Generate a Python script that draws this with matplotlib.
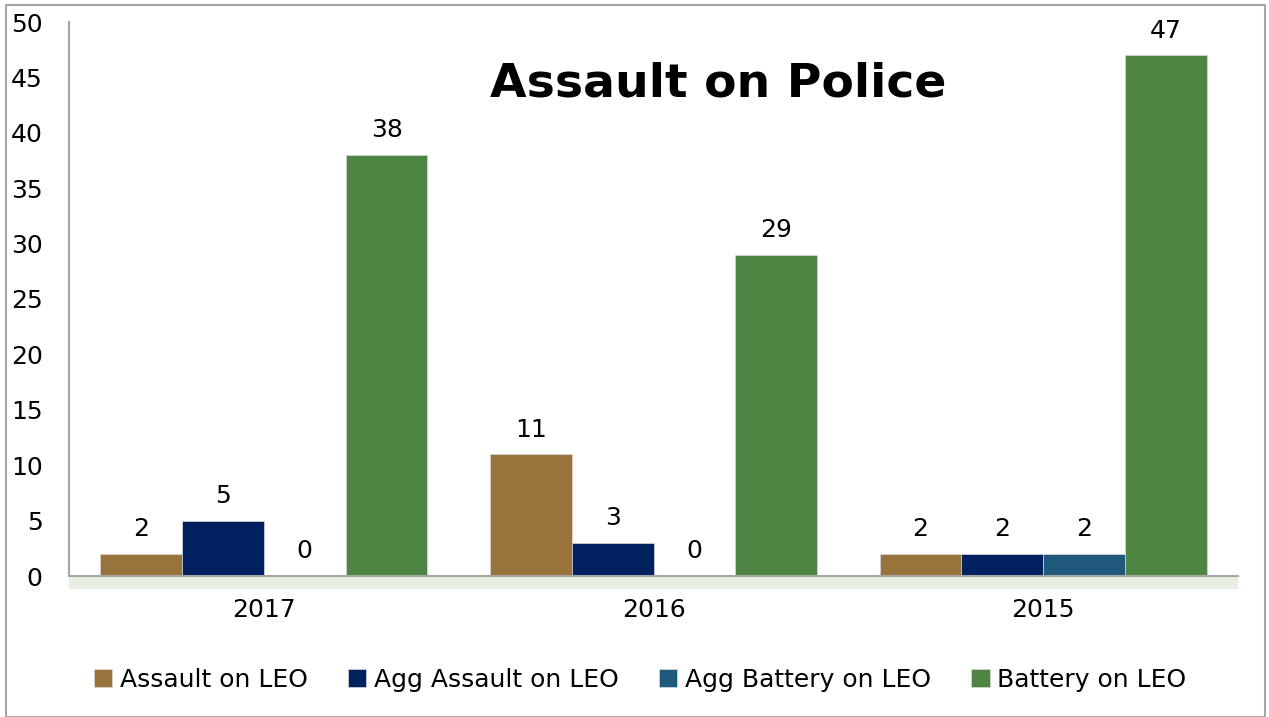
import matplotlib
matplotlib.use("Agg")
import matplotlib.pyplot as plt
from matplotlib.patches import Rectangle
import numpy as np

categories = ["2017", "2016", "2015"]
series_names = ["Assault on LEO", "Agg Assault on LEO", "Agg Battery on LEO", "Battery on LEO"]
assault = [2, 11, 2]
agg_assault = [5, 3, 2]
agg_battery = [0, 0, 2]
battery = [38, 29, 47]
colors = ["#98733C", "#00205F", "#1F5A7D", "#4E8542"]
yticks = [0, 5, 10, 15, 20, 25, 30, 35, 40, 45, 50]
title = "Assault on Police"

plt.rcParams['font.family'] = ['DejaVu Sans']
fig = plt.figure(figsize=(12.69, 7.17), dpi=100)
fig.patch.set_facecolor("white")
# outer border
fig.add_artist(Rectangle((6/1269, 0), (1265-6)/1269, (717-5)/717, transform=fig.transFigure,
                         fill=False, edgecolor="#A6A6A6", linewidth=1.5))

ax = fig.add_axes([69/1269, 1-576/717, (1238-69)/1269, (576-22)/717])
x = np.arange(len(categories))
w = 0.21
all_series = [assault, agg_assault, agg_battery, battery]
for i, (vals, name, c) in enumerate(zip(all_series, series_names, colors)):
    pos = x + (i - 1.5) * w
    ax.bar(pos, vals, w, color=c, label=name, edgecolor="#D9D9D9", linewidth=0.5)
    for xi, v in zip(pos, vals):
        ax.annotate(str(v), (xi, v), xytext=(0, 9), textcoords="offset points",
                    ha="center", va="bottom", fontsize=18, color="black")

ax.set_xlim(-0.5, 2.5)
ax.set_ylim(0, 50)
ax.set_yticks(yticks)
ax.set_xticks(x)
ax.set_xticklabels(categories)
ax.tick_params(axis="y", length=0, pad=19, labelsize=18)
ax.tick_params(axis="x", length=0, pad=16, labelsize=18)
for s in ["top", "right"]:
    ax.spines[s].set_visible(False)
ax.spines["left"].set_color("#A6A6A6")
ax.spines["bottom"].set_color("#A6A6A6")
ax.spines["left"].set_linewidth(1.5)
ax.spines["bottom"].set_linewidth(1.5)

# soft shadow under baseline
fig.add_artist(Rectangle((69/1269, 1-589/717), (1238-69)/1269, 12/717, transform=fig.transFigure,
                         facecolor="#E6F0E0", edgecolor="none", zorder=0))

fig.text(718/1269, 1-84/717, title, ha="center", va="center", fontsize=34, fontweight="bold")

handles, labels = ax.get_legend_handles_labels()
fig.legend(handles, labels, loc="center", bbox_to_anchor=(640/1269, 1-680/717), ncol=4,
           frameon=False, fontsize=18, handlelength=0.75, handleheight=0.75,
           handletextpad=0.3, columnspacing=1.6)

fig.savefig("out.png", dpi=100, facecolor="white")
